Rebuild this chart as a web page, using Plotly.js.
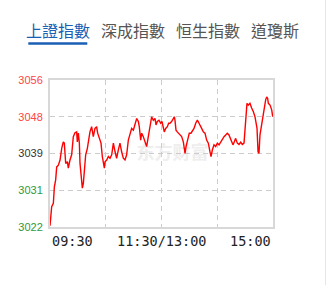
<!DOCTYPE html>
<html>
<head>
<meta charset="utf-8">
<script src="https://cdn.plot.ly/plotly-3.0.1.min.js"></script>
<style>
html,body{margin:0;padding:0;background:#fff;}
#chart{width:327px;height:285px;}
</style>
</head>
<body>
<div id="chart"></div>
<script>
// Data (trading minutes since 09:30, 240 = 15:00)
var minutes = [0,1.8,3.6,4.7,6.1,7.2,9.0,10.8,12.6,14.3,15.4,16.9,18.7,19.7,21.5,23.3,25.1,26.9,28.7,29.4,30.5,31.6,32.3,33.4,34.8,35.9,36.9,38.4,40.2,41.3,43.0,44.8,46.6,48.4,50.2,51.3,52.7,53.8,54.9,56.3,57.4,58.5,59.2,61.0,62.8,64.6,66.4,68.2,70.0,71.7,73.5,
75.3,77.1,78.9,80.7,82.5,84.3,86.1,87.9,89.7,91.5,93.3,95.1,96.1,97.6,98.7,100.4,102.2,104.0,105.8,107.6,109.4,111.2,113.0,114.1,115.5,117.3,119.1,120.5,122.0,123.0,124.5,126.3,127.7,129.1,130.9,132.7,133.8,134.5,135.6,137.0,138.5,139.9,141.7,143.5,145.3,146.4,148.2,149.9,151.7,153.5,155.0,156.8,158.6,160.4,
161.4,163.2,165.0,166.8,168.6,170.4,172.2,173.3,174.7,176.5,178.3,180.1,181.9,183.7,185.5,187.3,189.1,190.8,192.6,194.1,195.5,196.9,198.4,199.8,201.6,203.4,205.2,207.0,208.8,209.9,210.9,212.0,213.4,215.2,217.0,218.8,220.6,221.7,222.8,223.9,224.9,226.0,227.1,228.5,229.6,230.7,232.1,233.2,234.2,235.0,236.8,238.6,239.7];
var prices = [3022.3,3026.7,3027.5,3031.3,3032.9,3035.9,3036.3,3037.5,3040.2,3041.7,3041.4,3036.7,3037.1,3035.6,3037.5,3038.7,3042.9,3043.8,3044.0,3041.7,3043.7,3041.4,3036.7,3034.4,3031.0,3032.1,3034.4,3038.7,3040.2,3042.1,3044.0,3045.2,3042.9,3044.8,3045.2,3043.7,3042.9,3042.3,3041.4,3038.3,3036.3,3035.6,3037.1,3037.5,3038.3,3037.9,3038.7,3041.4,3039.4,3037.9,3039.8,
3041.4,3039.4,3037.9,3037.5,3038.7,3042.1,3043.7,3044.8,3044.4,3046.0,3047.1,3046.4,3045.2,3042.1,3043.7,3042.9,3041.7,3040.6,3042.9,3045.2,3047.5,3046.7,3047.1,3045.6,3046.4,3046.7,3046.0,3046.4,3044.8,3044.0,3044.8,3045.2,3046.0,3046.0,3046.4,3047.1,3047.5,3046.7,3044.4,3044.0,3043.7,3043.3,3042.9,3041.7,3039.0,3040.6,3042.5,3043.7,3043.7,3044.4,3044.8,3046.0,3046.7,3046.0,
3045.4,3044.8,3044.0,3043.7,3042.1,3041.4,3039.4,3038.3,3039.8,3041.0,3040.6,3041.4,3041.0,3041.7,3042.5,3042.9,3043.3,3043.7,3043.3,3042.5,3041.7,3041.0,3041.7,3042.5,3041.4,3041.1,3041.6,3041.1,3041.4,3044.8,3048.3,3050.6,3050.2,3050.6,3049.5,3048.7,3047.5,3046.4,3044.8,3039.4,3039.0,3043.3,3044.8,3047.1,3047.9,3050.2,3051.4,3052.1,3051.8,3050.6,3050.2,3049.1,3047.5];

var priceTicks = [3022, 3030.5, 3039, 3047.5, 3056];
var priceLabels = ['3022', '3031', '3039', '3048', '3056'];
var prevClose = 3039;

var timeTicks = [0, 120, 240];
var timeLabels = ['09:30', '11:30/13:00', '15:00'];
var gridMinutes = [0, 60, 120, 180, 240];

var tabs = ['上證指數', '深成指數', '恒生指數', '道瓊斯'];
var watermark = '东方财富';

// styling
var W = 327, H = 285, L = 50, R = 54, T = 80, B = 58;
var pw = W - L - R, ph = H - T - B;
function px(x) { return (x - L) / pw; }
function py(y) { return (H - B - y) / ph; }

var tickText = priceTicks.map(function (v, i) {
  var c = v > prevClose ? '#ff4545' : (v < prevClose ? '#2f9a3a' : '#333333');
  return '<span style="color:' + c + '">' + priceLabels[i] + '</span>';
});

var tabCenters = [58.3, 132.5, 208.3, 274.8];
var annotations = tabs.map(function (t, i) {
  return {
    text: t, xref: 'paper', yref: 'paper', x: px(tabCenters[i]), y: py(30.5),
    xanchor: 'center', yanchor: 'middle', showarrow: false,
    font: {family: 'Noto Sans CJK TC', size: 16, color: i === 0 ? '#1a5fb4' : '#555555'}
  };
});
var anchors = ['left', 'center', 'right'];
timeTicks.forEach(function (t, i) {
  annotations.push({
    text: timeLabels[i], xref: 'x', yref: 'paper', x: t, y: 0,
    xanchor: anchors[i], yanchor: 'top', yshift: -4, showarrow: false,
    font: {family: 'DejaVu Sans Mono', size: 13.5, color: '#222222'}
  });
});

var shapes = [
  {type: 'rect', xref: 'paper', yref: 'paper', x0: px(28.3), x1: px(87.3), y0: py(44.7), y1: py(42.3),
   fillcolor: '#1a5fb4', line: {width: 0}},
  {type: 'line', xref: 'paper', yref: 'paper', x0: px(325.5), x1: px(325.5), y0: py(285), y1: py(0),
   line: {color: '#e6e6e6', width: 1}},
  {type: 'rect', xref: 'paper', yref: 'paper', x0: px(125), x1: px(220), y0: py(163), y1: py(145),
   layer: 'below', line: {width: 0}, fillcolor: 'rgba(0,0,0,0)',
   label: {text: watermark, textposition: 'middle center',
           font: {family: 'Noto Sans CJK SC', size: 18, color: '#eeeeee', weight: 'bold'}}}
];

var trace = {
  x: minutes, y: prices, type: 'scatter', mode: 'lines',
  line: {color: '#ff0000', width: 1.4}, hoverinfo: 'skip'
};

var layout = {
  width: W, height: H,
  margin: {l: L, r: R, t: T, b: B, pad: 0},
  paper_bgcolor: '#ffffff', plot_bgcolor: '#ffffff',
  showlegend: false,
  xaxis: {
    range: [0, 240], tickvals: gridMinutes, showticklabels: false, ticks: '',
    showgrid: true, gridcolor: '#cccccc', griddash: '5px,4px', gridwidth: 1,
    zeroline: false, showline: true, mirror: true, linecolor: '#d8d8d8', linewidth: 2, fixedrange: true
  },
  yaxis: {
    range: [3022, 3056], tickvals: priceTicks, ticktext: tickText, ticks: '',
    ticklabelstandoff: 3,
    tickfont: {family: 'Liberation Sans', size: 11},
    showgrid: true, gridcolor: '#cccccc', griddash: '5px,4px', gridwidth: 1,
    zeroline: false, showline: true, mirror: true, linecolor: '#d8d8d8', linewidth: 2, fixedrange: true
  },
  annotations: annotations,
  shapes: shapes
};

Plotly.newPlot('chart', [trace], layout, {displayModeBar: false, staticPlot: true});
</script>
</body>
</html>
